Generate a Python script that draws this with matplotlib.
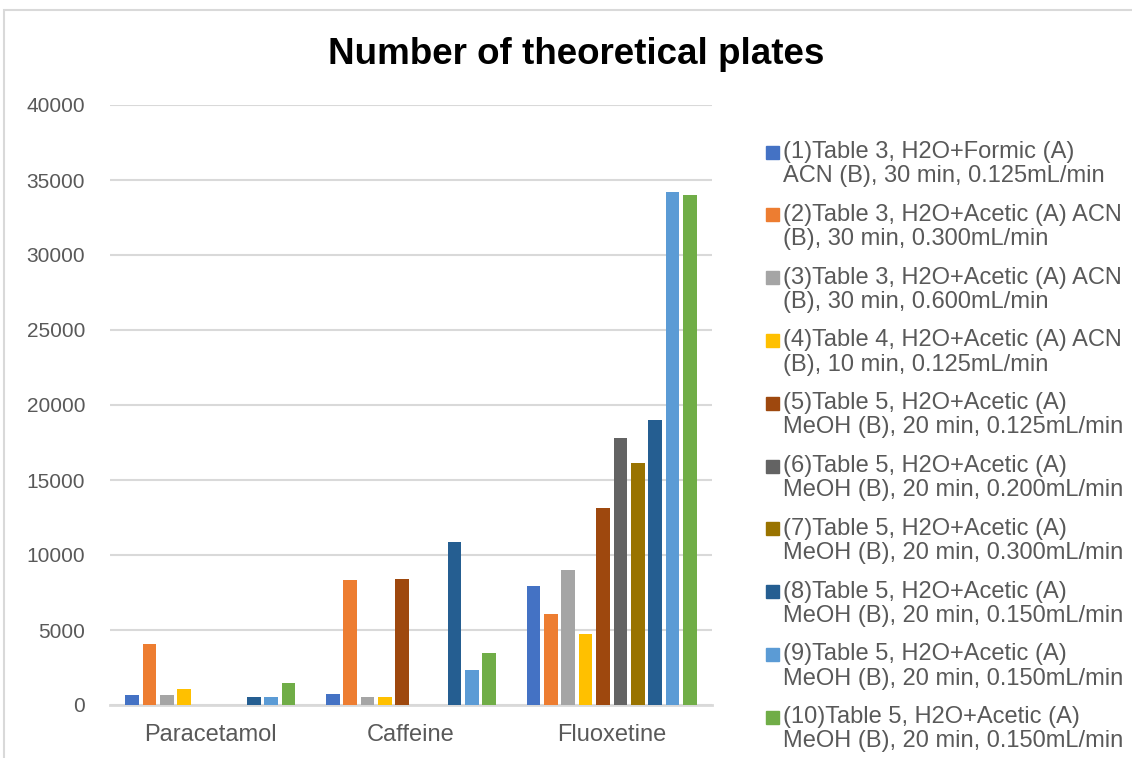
import numpy as np
import matplotlib
matplotlib.use('Agg')
import matplotlib.pyplot as plt
from matplotlib.patches import Rectangle

# Compounds on the x axis
compounds = ['Paracetamol', 'Caffeine', 'Fluoxetine']

# Plate counts per chromatographic condition (Paracetamol, Caffeine, Fluoxetine)
cond1 = [700, 740, 7950]
cond2 = [4040, 8350, 6100]
cond3 = [650, 560, 9000]
cond4 = [1080, 560, 4730]
cond5 = [0, 8380, 13150]
cond6 = [0, 0, 17770]
cond7 = [0, 0, 16160]
cond8 = [540, 10870, 18980]
cond9 = [560, 2360, 34170]
cond10 = [1480, 3450, 34030]

labels = [
    '(1)Table 3, H2O+Formic (A)\nACN (B), 30 min, 0.125mL/min',
    '(2)Table 3, H2O+Acetic (A) ACN\n(B), 30 min, 0.300mL/min',
    '(3)Table 3, H2O+Acetic (A) ACN\n(B), 30 min, 0.600mL/min',
    '(4)Table 4, H2O+Acetic (A) ACN\n(B), 10 min, 0.125mL/min',
    '(5)Table 5, H2O+Acetic (A)\nMeOH (B), 20 min, 0.125mL/min',
    '(6)Table 5, H2O+Acetic (A)\nMeOH (B), 20 min, 0.200mL/min',
    '(7)Table 5, H2O+Acetic (A)\nMeOH (B), 20 min, 0.300mL/min',
    '(8)Table 5, H2O+Acetic (A)\nMeOH (B), 20 min, 0.150mL/min',
    '(9)Table 5, H2O+Acetic (A)\nMeOH (B), 20 min, 0.150mL/min',
    '(10)Table 5, H2O+Acetic (A)\nMeOH (B), 20 min, 0.150mL/min',
]

colors = ['#4472C4', '#ED7D31', '#A5A5A5', '#FFC000', '#9E480E',
          '#636363', '#997300', '#255E91', '#5B9BD5', '#70AD47']

series = [cond1, cond2, cond3, cond4, cond5, cond6, cond7, cond8, cond9, cond10]

plt.rcParams['font.family'] = ['Liberation Sans', 'DejaVu Sans']
txt_col = '#595959'
grid_col = '#d9d9d9'

W, H = 1132, 758
fig = plt.figure(figsize=(W / 100, H / 100), dpi=100)

# outer chart border
fig.patches.append(Rectangle((4 / W, -0.1), 1.2, (H - 10) / H + 0.1,
                             transform=fig.transFigure, fill=False,
                             edgecolor=grid_col, lw=1.5))

ax = fig.add_axes([110 / W, 53 / H, 602 / W, 600 / H])

x = np.arange(len(compounds))
pitch = 0.0867
width = 0.068
n = len(series)
for i, (vals, c, lab) in enumerate(zip(series, colors, labels)):
    ax.bar(x + (i - (n - 1) / 2) * pitch, vals, width=width, color=c,
           label=lab, zorder=3)

ax.set_xlim(-0.5, len(compounds) - 0.5)
ax.set_ylim(0, 40000)
ax.set_yticks(np.arange(0, 40001, 5000))
ax.set_xticks(x)
ax.set_xticklabels(compounds)
ax.yaxis.grid(True, color=grid_col, lw=1.5, zorder=0)
for s in ['top', 'right', 'left']:
    ax.spines[s].set_visible(False)
ax.spines['bottom'].set_color(grid_col)
ax.spines['bottom'].set_linewidth(2)
ax.tick_params(axis='y', length=0, pad=18, labelsize=15, labelcolor=txt_col)
ax.tick_params(axis='x', length=0, pad=14, labelsize=17, labelcolor=txt_col)

fig.text(576 / W, 1 - 54 / H, 'Number of theoretical plates', ha='center',
         va='center', fontsize=26.5, fontweight='bold', color='black')

# legend: square swatch beside first line of each two-line entry
y0 = 152
step = 62.8
for i, (c, lab) in enumerate(zip(colors, labels)):
    yc = y0 + i * step
    fig.patches.append(Rectangle((766 / W, 1 - (yc + 6.5) / H), 13 / W, 13 / H,
                                 transform=fig.transFigure, color=c))
    fig.text(783 / W, 1 - (yc - 11) / H, lab, ha='left', va='top',
             fontsize=17, color=txt_col, linespacing=1.13)

fig.savefig('out.png', dpi=100)
